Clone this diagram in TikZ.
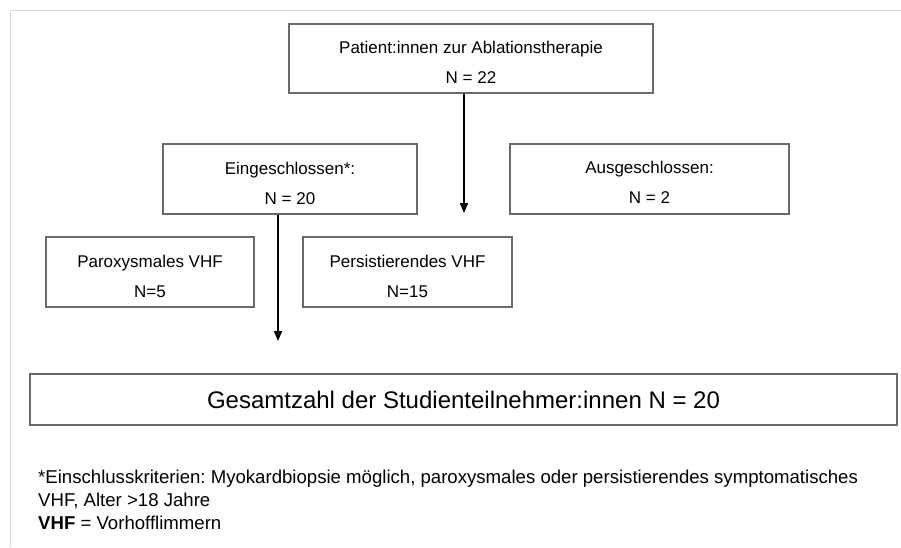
\documentclass[tikz,border=0pt]{standalone}
\usepackage{fontspec}
\setmainfont{Liberation Sans}
\frenchspacing
\usetikzlibrary{arrows.meta}
\definecolor{boxgray}{RGB}{105,105,105}
\definecolor{framegray}{RGB}{216,216,216}
\begin{document}
\begin{tikzpicture}[x=1pt,y=-1pt,
  box/.style={draw=boxgray, line width=1.3pt, inner sep=0pt},
  txt/.style={inner sep=0pt, align=center, font=\fontsize{17}{30}\selectfont},
  foot/.style={inner sep=0pt, anchor=base west, font=\fontsize{18.6}{22}\selectfont},
  arr/.style={-{Triangle[length=10pt,width=8pt]}, line width=1.6pt, black}]
\useasboundingbox (0,0) rectangle (901,547);
\draw[framegray, line width=1pt] (10,547) -- (10,10) -- (901,10);

% boxes
\node[box, minimum width=364pt, minimum height=69pt] (pat) at (471,58.5) {};
\node[txt] (patT) at (471,62) {Patient:innen zur Ablationstherapie\\N = 22};

\node[box, minimum width=254pt, minimum height=70pt] (ein) at (290,179) {};
\node[txt] (einT) at (290,183) {Eingeschlossen*:\\N = 20};

\node[box, minimum width=279pt, minimum height=70pt] (aus) at (649.5,179) {};
\node[txt] (ausT) at (649.5,182) {Ausgeschlossen:\\N = 2};

\node[box, minimum width=208pt, minimum height=70pt] (par) at (150,272) {};
\node[txt] (parT) at (150,276) {Paroxysmales VHF\\N=5};

\node[box, minimum width=209pt, minimum height=70pt] (per) at (407.5,272) {};
\node[txt] (perT) at (407.5,276) {Persistierendes VHF\\N=15};

\node[box, minimum width=867pt, minimum height=51pt] (ges) at (463.5,399.5) {};
\node[inner sep=0pt, font=\fontsize{24}{28}\selectfont] (gesT) at (463.5,400) {Gesamtzahl der Studienteilnehmer:innen N = 20};

% arrows
\coordinate (a1s) at (pat.south -| 464,0);
\coordinate (a1e) at (464,213);
\draw[arr] (a1s) -- (a1e);
\coordinate (a2s) at (ein.south -| 278,0);
\coordinate (a2e) at (278,341);
\draw[arr] (a2s) -- (a2e);

% footnote
\node[foot] (f1) at (38,483.5) {*Einschlusskriterien: Myokardbiopsie möglich, paroxysmales oder persistierendes symptomatisches};
\node[foot] (f2) at (38,506.5) {VHF, Alter >18 Jahre};
\node[foot] (f3) at (38,529) {\textbf{VHF} = Vorhofflimmern};
\end{tikzpicture}
\end{document}
